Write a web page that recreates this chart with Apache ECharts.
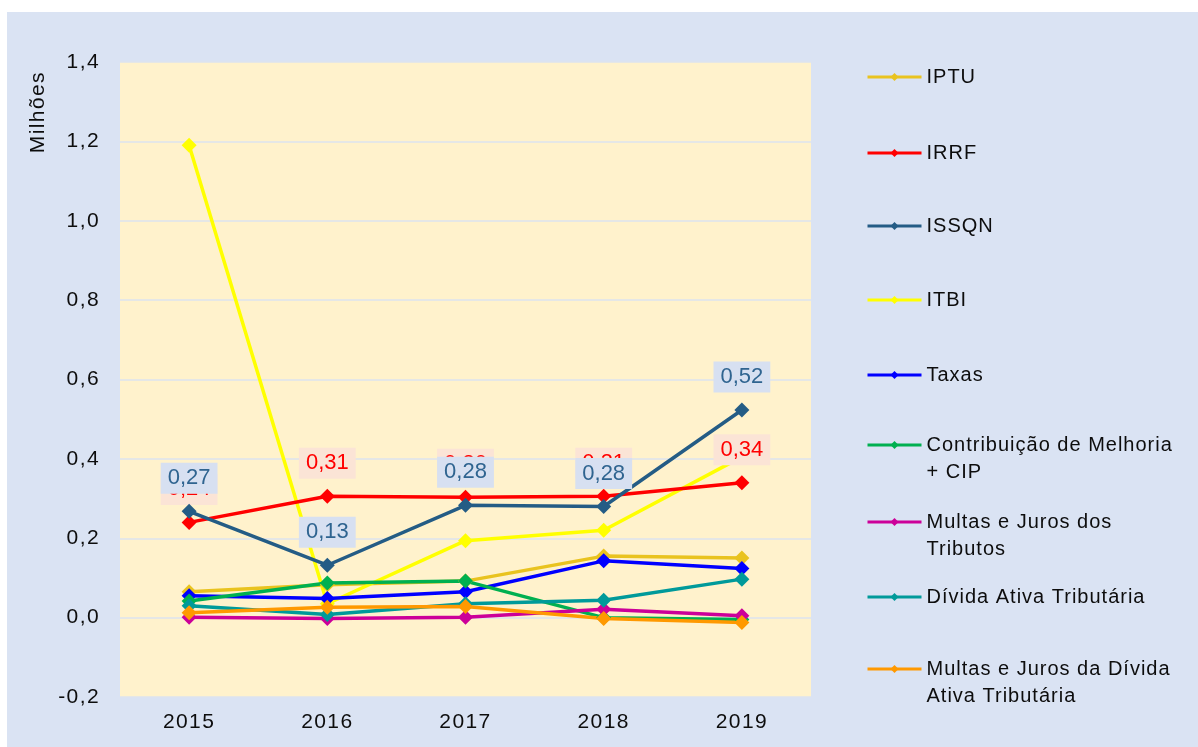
<!DOCTYPE html>
<html>
<head>
<meta charset="utf-8">
<script src="https://cdn.jsdelivr.net/npm/echarts@6/dist/echarts.min.js"></script>
<style>
html,body{margin:0;padding:0;background:#ffffff;}
#chart{position:absolute;left:7px;top:12px;width:1191px;height:735px;}
</style>
</head>
<body>
<div id="chart"></div>
<script>
// ---- data ----
const years = ['2015', '2016', '2017', '2018', '2019'];
const seriesNames = [
  'IPTU', 'IRRF', 'ISSQN', 'ITBI', 'Taxas',
  'Contribuição de Melhoria\n+ CIP',
  'Multas e Juros dos\nTributos',
  'Dívida Ativa Tributária',
  'Multas e Juros da Dívida\nAtiva Tributária'
];
const iptu      = [0.065, 0.083, 0.092, 0.155, 0.150];
const irrf      = [0.240, 0.306, 0.303, 0.306, 0.340];
const issqn     = [0.268, 0.132, 0.283, 0.280, 0.523];
const itbi      = [1.190, 0.035, 0.194, 0.220, 0.405];
const taxas     = [0.055, 0.048, 0.065, 0.143, 0.124];
const contrib   = [0.042, 0.087, 0.092, 0.000, -0.005];
const multasTrib= [0.001, -0.002, 0.001, 0.021, 0.005];
const divida    = [0.030, 0.008, 0.035, 0.044, 0.097];
const multasDiv = [0.012, 0.026, 0.028, -0.002, -0.012];
const yTicks = {min: -0.2, max: 1.4, step: 0.2};

// ---- text tracking (the reference text is slightly letter-spaced) ----
(function () {
  const P = CanvasRenderingContext2D.prototype;
  function sp(ctx) {
    const f = ctx.font || '';
    ctx.letterSpacing = /(^|\s)21px/.test(f) ? '1.4px' : (/(^|\s)20px/.test(f) ? '1px' : '0px');
  }
  const fT = P.fillText, sT = P.strokeText, mT = P.measureText;
  P.fillText = function () { sp(this); return fT.apply(this, arguments); };
  P.strokeText = function () { sp(this); return sT.apply(this, arguments); };
  P.measureText = function () { sp(this); return mT.apply(this, arguments); };
})();

// ---- styling ----
const colors = {
  'IPTU': '#E9C31F',
  'IRRF': '#FF0000',
  'ISSQN': '#245C85',
  'ITBI': '#FFFF00',
  'Taxas': '#0000FF',
  'Contribuição de Melhoria\n+ CIP': '#00B050',
  'Multas e Juros dos\nTributos': '#CC0099',
  'Dívida Ativa Tributária': '#009A9A',
  'Multas e Juros da Dívida\nAtiva Tributária': '#FF9900'
};
const dataByName = {
  'IPTU': iptu, 'IRRF': irrf, 'ISSQN': issqn, 'ITBI': itbi, 'Taxas': taxas,
  'Contribuição de Melhoria\n+ CIP': contrib,
  'Multas e Juros dos\nTributos': multasTrib,
  'Dívida Ativa Tributária': divida,
  'Multas e Juros da Dívida\nAtiva Tributária': multasDiv
};
const fmt = v => v.toFixed(2).replace('.', ',');
const FONT = '"Liberation Sans", Arial, sans-serif';
const TEXT = '#0d0d0d';

function makeSeries(name) {
  const s = {
    name: name,
    type: 'line',
    data: dataByName[name],
    symbol: 'diamond',
    symbolSize: 15,
    color: colors[name],
    lineStyle: {width: 3.5, color: colors[name]},
    itemStyle: {color: colors[name]},
    emphasis: {disabled: true},
    animation: false,
    z: 2
  };
  if (name === 'IRRF' || name === 'ISSQN') {
    const isIss = name === 'ISSQN';
    s.z = isIss ? 4 : 3;
    s.label = {
      show: true,
      position: 'top',
      distance: 10,
      formatter: p => fmt(p.value),
      fontFamily: FONT,
      fontSize: 22,
      lineHeight: 23,
      color: isIss ? '#2F6490' : '#FF0000',
      backgroundColor: isIss ? '#D7E0F1' : '#FBE4D6',
      padding: [4, 7, 4, 7]
    };
  }
  return s;
}

// draw order: others first, IRRF then ISSQN on top
const drawOrder = seriesNames.filter(n => n !== 'IRRF' && n !== 'ISSQN').concat(['IRRF', 'ISSQN']);

// legend layout (icon centres in container coordinates)
const legendCenters = [65, 141, 214, 288, 363, 433, 510, 585, 657];
const LH = 27;
const legends = seriesNames.map((n, i) => {
  const twoLine = n.indexOf('\n') >= 0;
  return {
    data: [n],
    left: 859,
    top: twoLine ? legendCenters[i] - 1.5 * LH : legendCenters[i] - LH / 2,
    orient: 'vertical',
    padding: 0,
    itemWidth: 54,
    itemHeight: 10,
    selectedMode: false,
    formatter: twoLine ? (nm => '\n' + nm) : (nm => nm),
    lineStyle: {width: 3},
    textStyle: {
      fontFamily: FONT,
      fontSize: 20,
      color: TEXT,
      lineHeight: LH
    }
  };
});

const chart = echarts.init(document.getElementById('chart'));
chart.setOption({
  backgroundColor: '#DAE3F3',
  animation: false,
  grid: {
    left: 113, right: 387, top: 50, bottom: 50,
    show: true, backgroundColor: '#FFF2CC', borderWidth: 0
  },
  legend: legends,
  graphic: [{
    type: 'text',
    left: 20,
    top: 59,
    rotation: Math.PI / 2,
    style: {text: 'Milhões', font: '21px ' + FONT, fill: TEXT}
  }],
  xAxis: {
    type: 'category',
    data: years,
    boundaryGap: true,
    axisLine: {show: false},
    axisTick: {show: false},
    axisLabel: {fontFamily: FONT, fontSize: 21, color: TEXT, margin: 14}
  },
  yAxis: {
    type: 'value',
    min: yTicks.min,
    max: yTicks.max,
    interval: yTicks.step,
    axisLine: {show: false},
    axisTick: {show: false},
    axisLabel: {
      fontFamily: FONT, fontSize: 21, color: TEXT, margin: 20,
      formatter: v => (Math.round(v * 10) / 10).toFixed(1).replace('.', ',')
    },
    splitLine: {lineStyle: {color: '#DCE3EF', width: 1.5}}
  },
  series: drawOrder.map(makeSeries)
});
</script>
</body>
</html>
